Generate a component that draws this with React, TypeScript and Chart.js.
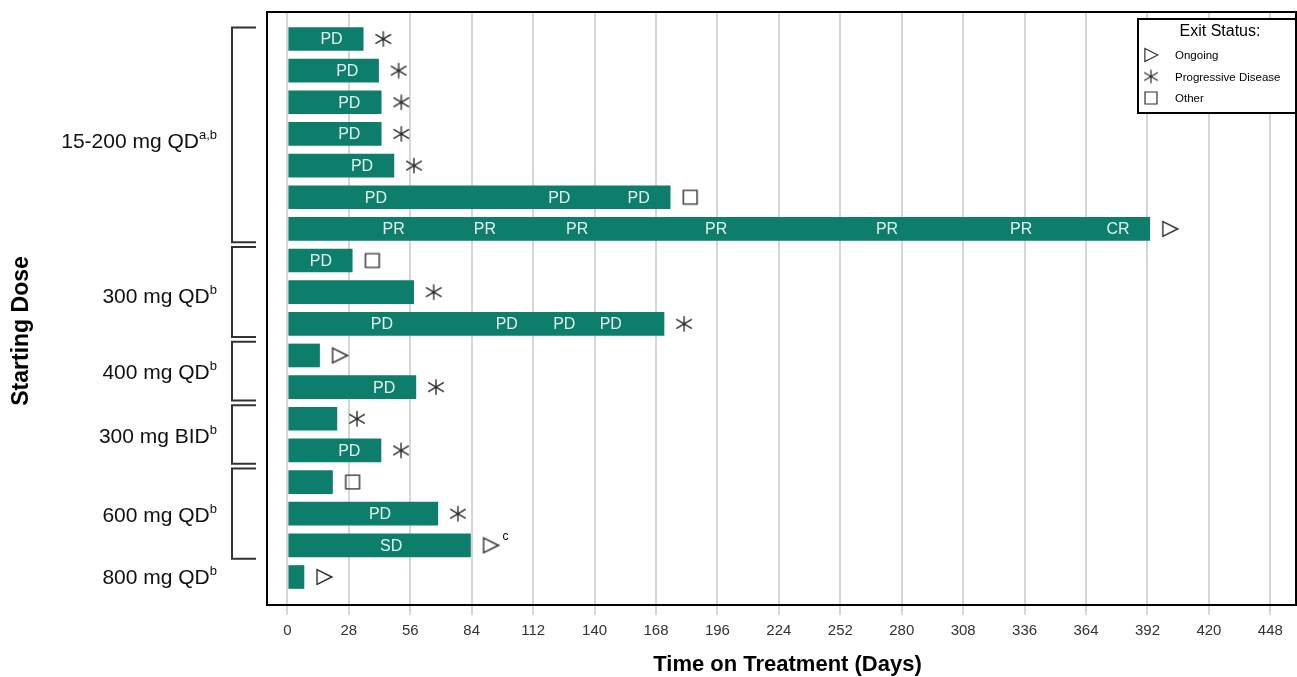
import React, { useEffect, useRef } from 'react';
import { Chart, registerables } from 'chart.js';

Chart.register(...registerables);

// ---------- data ----------
const rowIds = [1, 2, 3, 4, 5, 6, 7, 8, 9, 10, 11, 12, 13, 14, 15, 16, 17, 18];
const durations = [34.7, 41.7, 42.9, 42.9, 48.7, 174.6, 393.2, 29.7, 57.7, 171.8, 14.8, 58.7, 22.7, 42.8, 20.7, 68.7, 83.6, 7.7];
const exitStatus = ['pd', 'pd', 'pd', 'pd', 'pd', 'other', 'ongoing', 'other', 'pd', 'pd', 'ongoing', 'pd', 'pd', 'pd', 'other', 'pd', 'ongoing', 'ongoing'];

const responseRows = [1, 2, 3, 4, 5, 6, 6, 6, 7, 7, 7, 7, 7, 7, 7, 8, 10, 10, 10, 10, 12, 14, 16, 17];
const responseDays = [20.1, 27.3, 28.2, 28.2, 34, 40.3, 123.9, 160.1, 48.4, 90, 132.1, 195.4, 273.3, 334.4, 378.6, 15.3, 43.1, 100, 126.2, 147.4, 44.1, 28.2, 42.2, 47.3];
const responseTexts = ['PD', 'PD', 'PD', 'PD', 'PD', 'PD', 'PD', 'PD', 'PR', 'PR', 'PR', 'PR', 'PR', 'PR', 'CR', 'PD', 'PD', 'PD', 'PD', 'PD', 'PD', 'PD', 'PD', 'SD'];

const groupNames = ['15-200 mg QD', '300 mg QD', '400 mg QD', '300 mg BID', '600 mg QD', '800 mg QD'];
const groupSups = ['a,b', 'b', 'b', 'b', 'b', 'b'];
const groupStartRows = [1, 8, 11, 13, 15, 18];
const groupEndRows = [7, 10, 12, 14, 17, 18];

const footnoteRows = [17];
const footnoteTexts = ['c'];

const tickValues = [0, 28, 56, 84, 112, 140, 168, 196, 224, 252, 280, 308, 336, 364, 392, 420, 448];

const legendKeys = ['ongoing', 'pd', 'other'];
const legendLabels = ['Ongoing', 'Progressive Disease', 'Other'];
const legendTitle = 'Exit Status:';

const xTitle = 'Time on Treatment (Days)';
const yTitle = 'Starting Dose';

// ---------- styles ----------
const FONT = '"Liberation Sans", Arial, Helvetica, sans-serif';
const BAR_COLOR = '#0d7e6b';
const MARK_COLOR = '#2e2e2e';
const MARKER_GAP_DAYS = 9;
const GROUP_LABEL_NUDGE = [8, 5, 2, 3, 3, 1];

function makeMarker(kind: string, size: number, lw: number): HTMLCanvasElement {
  const c = document.createElement('canvas');
  c.width = size;
  c.height = size;
  const g = c.getContext('2d')!;
  g.strokeStyle = MARK_COLOR;
  g.lineWidth = lw;
  const m = size / 2;
  const r = size / 2 - 1.2;
  g.beginPath();
  if (kind === 'ongoing') {
    g.moveTo(m - r * 0.9, m - r * 0.95);
    g.lineTo(m + r, m);
    g.lineTo(m - r * 0.9, m + r * 0.95);
    g.closePath();
    g.stroke();
  } else if (kind === 'pd') {
    g.moveTo(m, m - r);
    g.lineTo(m, m + r);
    g.moveTo(m - r, m - r * 0.6);
    g.lineTo(m + r, m + r * 0.6);
    g.moveTo(m - r, m + r * 0.6);
    g.lineTo(m + r, m - r * 0.6);
    g.stroke();
  } else {
    const s = r * 0.88;
    g.rect(m - s, m - s, 2 * s, 2 * s);
    g.stroke();
  }
  return c;
}

export default function App() {
  const ref = useRef<HTMLCanvasElement | null>(null);

  useEffect(() => {
    if (!ref.current) return;
    const markers: Record<string, HTMLCanvasElement> = {
      ongoing: makeMarker('ongoing', 18, 1.4),
      pd: makeMarker('pd', 18, 1.4),
      other: makeMarker('other', 18, 1.4),
    };
    const legendMarkers: Record<string, HTMLCanvasElement> = {
      ongoing: makeMarker('ongoing', 16, 1.2),
      pd: makeMarker('pd', 16, 1.2),
      other: makeMarker('other', 16, 1.2),
    };

    const stretchPlugin = {
      id: 'stretchRight',
      afterLayout(chart: any) {
        const target = chart.width - 1;
        const ca = chart.chartArea;
        if (ca.right !== target) {
          ca.right = target;
          ca.width = ca.right - ca.left;
          const xs = chart.scales.x;
          xs.right = target;
          xs.width = xs.right - xs.left;
          xs.configure();
        }
      },
    };

    const decorPlugin = {
      id: 'decor',
      afterDatasetsDraw(chart: any) {
        const { ctx, scales } = chart;
        const xs = scales.x;
        const ys = scales.y;
        ctx.save();
        // response labels inside bars
        ctx.font = `16px ${FONT}`;
        ctx.fillStyle = '#e4f1ed';
        ctx.textAlign = 'center';
        ctx.textBaseline = 'middle';
        responseRows.forEach((r, i) => {
          ctx.fillText(responseTexts[i], xs.getPixelForValue(responseDays[i]), ys.getPixelForValue(r) + 1);
        });
        // footnote marks
        ctx.font = `12px ${FONT}`;
        ctx.fillStyle = '#000';
        footnoteRows.forEach((r, i) => {
          const idx = rowIds.indexOf(r);
          const px = xs.getPixelForValue(durations[idx] + MARKER_GAP_DAYS);
          ctx.fillText(footnoteTexts[i], px + 15, ys.getPixelForValue(r) - 9);
        });
        ctx.restore();
      },
      afterDraw(chart: any) {
        const { ctx, chartArea, scales } = chart;
        const ys = scales.y;
        const { left, top, right, bottom } = chartArea;
        ctx.save();
        // plot border
        ctx.strokeStyle = '#000';
        ctx.lineWidth = 2;
        ctx.strokeRect(left, top, right - left, bottom - top);

        // brackets and group labels
        ctx.strokeStyle = '#333';
        ctx.lineWidth = 2;
        const bx0 = left - 35;
        const bx1 = left - 11;
        groupNames.forEach((name, i) => {
          const s = groupStartRows[i];
          const e = groupEndRows[i];
          if (e > s) {
            const y0 = ys.getPixelForValue(s - (i === 0 ? 0.36 : 0.43));
            const y1 = ys.getPixelForValue(e + 0.42);
            ctx.beginPath();
            ctx.moveTo(bx1, y0);
            ctx.lineTo(bx0, y0);
            ctx.lineTo(bx0, y1);
            ctx.lineTo(bx1, y1);
            ctx.stroke();
          }
          const yc = ys.getPixelForValue((s + e) / 2) + GROUP_LABEL_NUDGE[i];
          const rightX = left - 50;
          ctx.font = `13px ${FONT}`;
          const supW = ctx.measureText(groupSups[i]).width;
          ctx.fillStyle = '#111';
          ctx.textAlign = 'left';
          ctx.textBaseline = 'middle';
          ctx.fillText(groupSups[i], rightX - supW, yc - 7);
          ctx.font = `21px ${FONT}`;
          ctx.textAlign = 'right';
          ctx.fillText(name, rightX - supW, yc);
        });

        // x title
        ctx.font = `bold 22px ${FONT}`;
        ctx.fillStyle = '#000';
        ctx.textAlign = 'center';
        ctx.textBaseline = 'middle';
        ctx.fillText(xTitle, (left + right) / 2 + 6, bottom + 60);

        // y title
        ctx.save();
        ctx.translate(22, top + 319);
        ctx.rotate(-Math.PI / 2);
        ctx.font = `bold 23px ${FONT}`;
        ctx.fillStyle = '#000';
        ctx.textAlign = 'center';
        ctx.textBaseline = 'middle';
        ctx.fillText(yTitle, 0, 0);
        ctx.restore();

        // legend
        const lw = 158;
        const lx = right - lw;
        const ly = top + 7;
        const lh = 94;
        ctx.fillStyle = '#fff';
        ctx.fillRect(lx, ly, lw, lh);
        ctx.strokeStyle = '#000';
        ctx.lineWidth = 2;
        ctx.strokeRect(lx, ly, lw, lh);
        ctx.fillStyle = '#000';
        ctx.textBaseline = 'middle';
        ctx.textAlign = 'center';
        ctx.font = `16px ${FONT}`;
        ctx.fillText(legendTitle, lx + 82, ly + 13);
        ctx.textAlign = 'left';
        ctx.font = `11.5px ${FONT}`;
        legendKeys.forEach((k, i) => {
          const cy = ly + 36 + i * 21.5;
          const img = legendMarkers[k];
          ctx.drawImage(img, lx + 13 - img.width / 2, cy - img.height / 2);
          ctx.fillText(legendLabels[i], lx + 37, cy + 1);
        });
        ctx.restore();
      },
    };

    const chart = new Chart(ref.current, {
      type: 'bar',
      data: {
        datasets: [
          {
            type: 'bar',
            indexAxis: 'y',
            data: rowIds.map((r, i) => ({ x: durations[i], y: r })),
            backgroundColor: BAR_COLOR,
            borderWidth: 0,
            barPercentage: 0.845,
            categoryPercentage: 1,
          } as any,
          {
            type: 'scatter',
            data: rowIds.map((r, i) => ({ x: durations[i] + MARKER_GAP_DAYS, y: r })),
            pointStyle: (c: any) => markers[exitStatus[c.dataIndex]],
            pointRadius: 8,
          } as any,
        ],
      },
      options: {
        indexAxis: 'y',
        responsive: false,
        animation: false,
        events: [],
        layout: { padding: { left: 267, top: 12, right: 1, bottom: 0 } },
        plugins: { legend: { display: false }, tooltip: { enabled: false } },
        scales: {
          x: {
            type: 'linear',
            position: 'bottom',
            min: -9.3,
            max: 459.7,
            offset: false,
            afterBuildTicks: (s: any) => {
              s.ticks = tickValues.map((v) => ({ value: v }));
            },
            afterFit: (s: any) => {
              s.height = 72;
              s.paddingLeft = 0;
              s.paddingRight = 0;
            },
            grid: {
              color: '#d6d6d6',
              lineWidth: 2,
              drawTicks: true,
              tickLength: 10,
              tickColor: '#d6d6d6',
              offset: false,
            },
            border: { display: false },
            ticks: {
              font: { family: FONT, size: 15 },
              color: '#333',
              padding: 7,
              autoSkip: false,
              maxRotation: 0,
            },
            title: { display: false },
          },
          y: {
            type: 'linear',
            reverse: true,
            min: 0.147,
            max: 18.885,
            offset: false,
            grid: { offset: false },
            display: false,
          },
        },
      } as any,
      plugins: [stretchPlugin, decorPlugin],
    });
    return () => chart.destroy();
  }, []);

  return (
    <div style={{ position: 'fixed', left: 0, top: 0, width: 1297, height: 677, background: '#fff' }}>
      <canvas ref={ref} width={1297} height={677} style={{ display: 'block' }} />
    </div>
  );
}
